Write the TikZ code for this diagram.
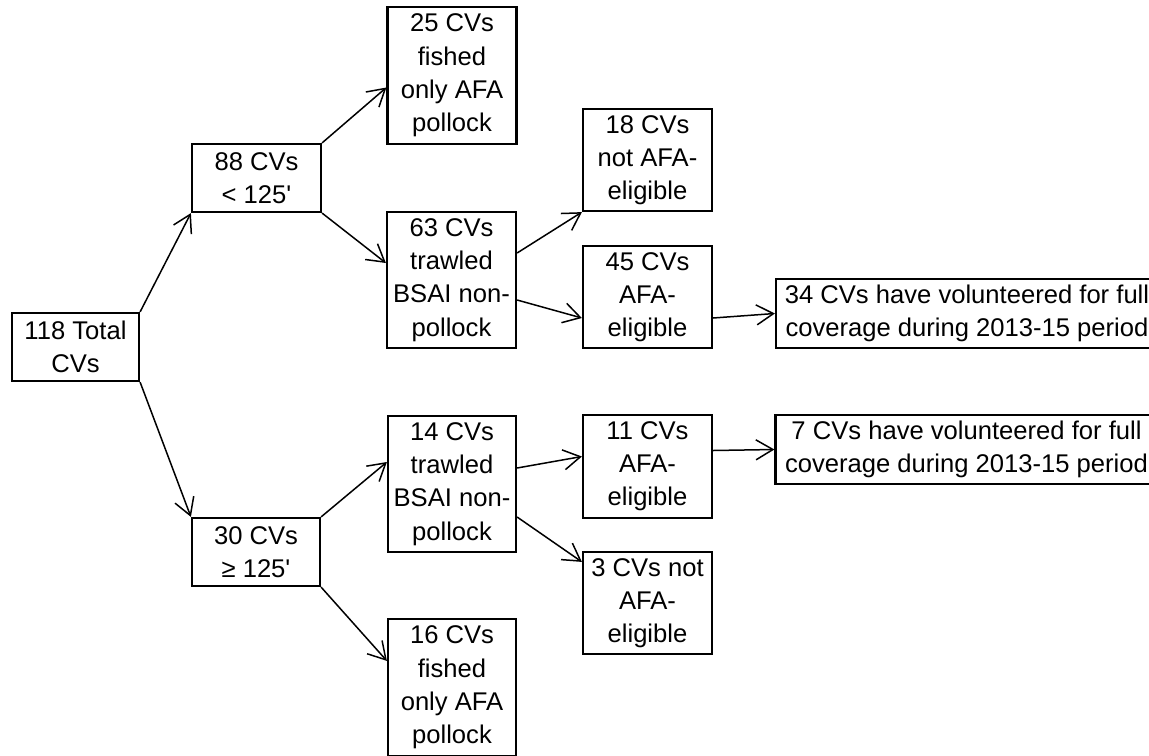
\documentclass[tikz,border=0pt]{standalone}
\usepackage{fontspec}
\setmainfont{Liberation Sans}[Ligatures=TeXOff]
\usetikzlibrary{arrows.meta, calc}
\tikzset{
    cvbox/.style={rectangle, draw=black, line width=1.1pt, fill=white, align=center, inner sep=0pt, minimum width=64.5pt, font=\fontsize{12.8}{16.6}\selectfont},
    arrow/.style={line width=0.75pt, -{Straight Barb[length=8.5pt, width=10pt, line width=0.75pt]}}
}
\begin{document}
\begin{tikzpicture}[x=0.5pt, y=-0.5pt]
        \useasboundingbox (0,0) rectangle (1149,755);
        % Boxes
        \node (total) at (75.5,347) [cvbox, minimum width=63.5pt, minimum height=34pt] {118 Total\\CVs};
        \node (b88) at (256.5,178) [cvbox, minimum height=34pt] {88 CVs\\< 125'};
        \node (b25) at (452,75.5) [cvbox, minimum height=68.5pt] {25 CVs\\fished\\only AFA\\pollock};
        \node (b63) at (451.5,280) [cvbox, minimum height=68pt] {63 CVs\\trawled\\BSAI non-\\pollock};
        \node (b18) at (647.5,160) [cvbox, minimum height=51pt] {18 CVs\\not AFA-\\eligible};
        \node (b45) at (647.5,297) [cvbox, minimum height=51pt] {45 CVs\\AFA-\\eligible};
        \node (b34) at (967,313.5) [cvbox, minimum width=191pt, minimum height=34.5pt] {34 CVs have volunteered for full\\coverage during 2013-15 period};
        \node (b30) at (256,552) [cvbox, minimum width=64pt, minimum height=34pt] {30 CVs\\≥ 125'};
        \node (b14) at (452,484) [cvbox, minimum width=64pt, minimum height=68pt] {14 CVs\\trawled\\BSAI non-\\pollock};
        \node (b16) at (452,687.5) [cvbox, minimum width=64pt, minimum height=68.5pt] {16 CVs\\fished\\only AFA\\pollock};
        \node (b11) at (647.5,466.5) [cvbox, minimum height=51.5pt] {11 CVs\\AFA-\\eligible};
        \node (b3) at (647.5,603) [cvbox, minimum height=51pt] {3 CVs not\\AFA-\\eligible};
        \node (b7) at (966.5,449.5) [cvbox, minimum width=191pt, minimum height=34.5pt] {7 CVs have volunteered for full\\coverage during 2013-15 period};

        % Arrows
        \draw[arrow] (total.north east) -- (b88.south west);
        \draw[arrow] (total.south east) -- (b30.north west);
        \draw[arrow] (b88.north east) -- ($(b25.west)+(0,12)$);
        \draw[arrow] (b88.south east) -- ($(b63.west)+(0,-17)$);
        \draw[arrow] ($(b63.east)+(0,-27)$) -- (b18.south west);
        \draw[arrow] ($(b63.east)+(0,20)$) -- ($(b45.west)+(0,21)$);
        \draw[arrow] ($(b45.east)+(0,21)$) -- (b34.west);
        \draw[arrow] (b30.north east) -- ($(b14.west)+(0,-22)$);
        \draw[arrow] (b30.south east) -- ($(b16.north west)+(0,43)$);
        \draw[arrow] ($(b14.east)+(0,-16)$) -- ($(b11.west)+(0,-10)$);
        \draw[arrow] ($(b14.east)+(0,33)$) -- ($(b3.north west)+(0,11)$);
        \draw[arrow] ($(b11.east)+(0,-16)$) -- (b7.west);
\end{tikzpicture}
\end{document}
